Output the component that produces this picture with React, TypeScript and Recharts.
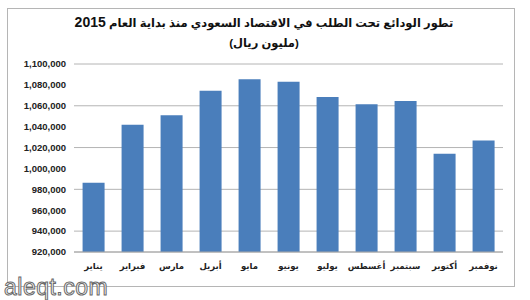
import React from 'react';
import { BarChart, Bar, XAxis, YAxis, CartesianGrid } from 'recharts';

// الأشهر من يناير إلى نوفمبر 2015
const months = ['يناير', 'فبراير', 'مارس', 'أبريل', 'مايو', 'يونيو', 'يوليو', 'أغسطس', 'سبتمبر', 'أكتوبر', 'نوفمبر'];
// الودائع تحت الطلب (مليون ريال)
const deposits = [986300, 1041800, 1051000, 1074500, 1085400, 1083100, 1068500, 1061500, 1064600, 1014000, 1026700];
const yTicks = [920000, 940000, 960000, 980000, 1000000, 1020000, 1040000, 1060000, 1080000, 1100000];

const title = 'تطور الودائع تحت الطلب في الاقتصاد السعودي منذ بداية العام 2015';
const subtitle = '(مليون ريال)';

const FONT = '"Liberation Sans", "DejaVu Sans", Arial, sans-serif';

const data = months.map((m, i) => ({ month: m, value: deposits[i] }));

export default function App() {
  return (
    <div style={{ position: 'absolute', left: 0, top: 0, width: 530, height: 300, background: '#fff', fontFamily: FONT, overflow: 'hidden' }}>
      <div style={{ position: 'absolute', left: 7, top: 8, width: 506, height: 277, border: '1px solid #b5b5b5' }} />
      <div dir="rtl" style={{ position: 'absolute', left: 0, top: 12, width: 528, textAlign: 'center', fontWeight: 'bold', fontSize: 11.5, lineHeight: '20px', color: '#111' }}>
        <div>{title.replace('2015', '')}<span style={{ fontSize: 14 }}>2015</span></div>
        <div>{subtitle}</div>
      </div>
      <div style={{ position: 'absolute', left: 0, top: 0 }}>
        <BarChart width={530} height={300} data={data} margin={{ top: 64, right: 27, bottom: 0, left: 0 }} barCategoryGap="22%">
          <CartesianGrid vertical={false} stroke="#b4b4b4" strokeWidth={1} />
          <XAxis
            dataKey="month"
            height={48}
            axisLine={{ stroke: '#a8a8a8' }}
            tickLine={false}
            tickSize={0}
            tickMargin={11}
            interval={0}
            tick={{ fontSize: 8.5, fontWeight: 'bold', fill: '#222', fontFamily: FONT }}
          />
          <YAxis
            width={74}
            domain={[920000, 1100000]}
            ticks={yTicks}
            axisLine={false}
            tickLine={false}
            tickSize={0}
            tickMargin={8}
            tickFormatter={(v: number) => v.toLocaleString('en-US')}
            tick={{ fontSize: 9.5, fontWeight: 'bold', fill: '#222', fontFamily: FONT }}
          />
          <Bar dataKey="value" fill="#4a7ebb" isAnimationActive={false} />
        </BarChart>
      </div>
      <div style={{ position: 'absolute', left: 4, top: 275, fontSize: 23, fontFamily: FONT, color: '#fff', WebkitTextStroke: '1px #6a6a6a', letterSpacing: 0.5, lineHeight: '24px' }}>
        aleqt.com
      </div>
    </div>
  );
}
